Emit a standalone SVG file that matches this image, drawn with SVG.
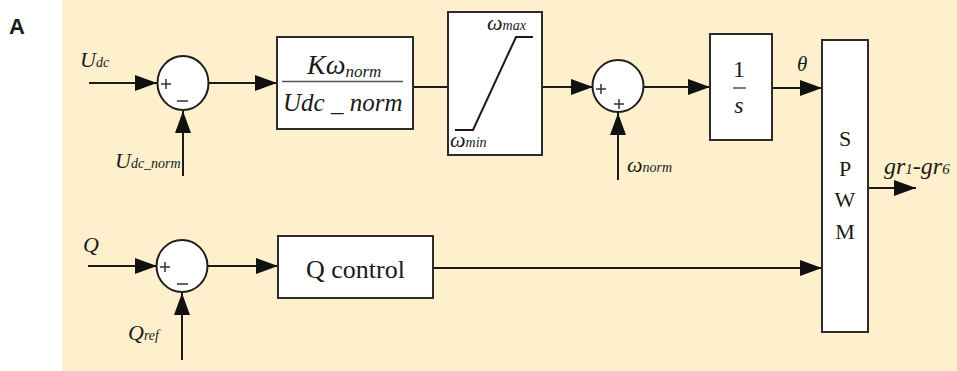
<svg xmlns="http://www.w3.org/2000/svg" width="957" height="371" viewBox="0 0 957 371">
<style>
.box{fill:#fff;stroke:#2b2b2b;stroke-width:2}
.sum{fill:#fff;stroke:#1e1e1e;stroke-width:2}
.ln{fill:none;stroke:#1a1a1a;stroke-width:2}
.ar{fill:none;stroke:#1a1a1a;stroke-width:2;marker-end:url(#ah)}
text{fill:#1a1a1a}
.i{font-style:italic}
.sign{stroke:#333;stroke-width:1.5;fill:none}
</style>
<defs>
<marker id="ah" markerUnits="userSpaceOnUse" markerWidth="22" markerHeight="16" viewBox="0 0 22 16" refX="22" refY="8" orient="auto">
<path d="M0,0 L22,8 L0,16 Z" fill="#111"/>
</marker>
</defs>
<rect x="0" y="0" width="957" height="371" fill="#fff"/>
<rect x="62" y="0" width="895" height="371" fill="#FEEFCD"/>
<text x="9" y="34" font-family="'Liberation Sans', Arial, sans-serif" font-weight="bold" font-size="22" fill="#000">A</text>

<g id="connectors">
<line class="ar" x1="89" y1="83" x2="157" y2="83"/>
<line class="ar" x1="183" y1="176" x2="183" y2="111"/>
<line class="ar" x1="208" y1="83" x2="277" y2="83"/>
<line class="ar" x1="414" y1="87" x2="593" y2="87"/>
<line class="ar" x1="618" y1="180" x2="618" y2="113"/>
<line class="ar" x1="643" y1="87" x2="710" y2="87"/>
<line class="ar" x1="772" y1="88" x2="822" y2="88"/>
<line class="ar" x1="868" y1="188" x2="916" y2="188"/>
<line class="ar" x1="88" y1="266" x2="157" y2="266"/>
<line class="ar" x1="182" y1="360" x2="182" y2="293"/>
<line class="ar" x1="207" y1="266" x2="278" y2="266"/>
<line class="ar" x1="433" y1="268" x2="822" y2="268"/>
</g>

<g font-family="'Liberation Serif', 'Times New Roman', serif">
<g id="labels">
<text class="i" x="80" y="67" font-size="22">U<tspan font-size="14">dc</tspan></text>
<text class="i" x="115" y="168" font-size="22">U<tspan font-size="14">dc_norm</tspan></text>
<text class="i" x="627" y="172" font-size="22">ω<tspan font-size="14">norm</tspan></text>
<text class="i" x="797" y="71" font-size="21">θ</text>
<text class="i" x="884" y="174" font-size="24">gr<tspan font-size="15">1</tspan>-gr<tspan font-size="15">6</tspan></text>
<text class="i" x="83" y="252" font-size="22">Q</text>
<text class="i" x="128" y="340" font-size="22">Q<tspan font-size="14">ref</tspan></text>
</g>

<g id="sum1">
<ellipse class="sum" cx="183" cy="83" rx="25.5" ry="27"/>
<path class="sign" d="M161,84 h10 M166,79 v10 M177,101 h11"/>
</g>

<g id="gain">
<rect class="box" x="277" y="37" width="136" height="92"/>
<text class="i" x="307" y="74" font-size="28">Kω<tspan font-size="17" dy="3">norm</tspan></text>
<line x1="282" y1="81.5" x2="403" y2="81.5" stroke="#555" stroke-width="1.5"/>
<text class="i" x="283" y="111" font-size="25">Udc _ norm</text>
</g>

<g id="limiter">
<rect class="box" x="448" y="12" width="94" height="143"/>
<path class="ln" d="M455,130 H473 L516,37 H533"/>
<text class="i" x="487" y="30" font-size="22">ω<tspan font-size="14">max</tspan></text>
<text class="i" x="450" y="147" font-size="22">ω<tspan font-size="14">min</tspan></text>
</g>

<g id="sum2">
<ellipse class="sum" cx="618" cy="86" rx="25.5" ry="26"/>
<path class="sign" d="M596,89 h10 M601,84 v10 M614,104 h10 M619,99 v10"/>
</g>

<g id="integrator">
<rect class="box" x="710" y="34" width="62" height="106"/>
<text x="739" y="77" font-size="24" text-anchor="middle">1</text>
<line x1="733" y1="88" x2="746" y2="88" stroke="#333" stroke-width="1.3"/>
<text class="i" x="739" y="113" font-size="24" text-anchor="middle">s</text>
</g>

<g id="spwm">
<rect class="box" x="822" y="40" width="46" height="292"/>
<text x="845" y="146" font-size="22" text-anchor="middle">S</text>
<text x="845" y="176" font-size="22" text-anchor="middle">P</text>
<text x="845" y="207" font-size="22" text-anchor="middle">W</text>
<text x="845" y="239" font-size="22" text-anchor="middle">M</text>
</g>

<g id="sum3">
<ellipse class="sum" cx="182" cy="266" rx="25.5" ry="26"/>
<path class="sign" d="M160,267 h10 M165,262 v10 M177,284 h11"/>
</g>

<g id="qcontrol">
<rect class="box" x="278" y="236" width="155" height="62"/>
<text x="355.5" y="278" font-size="26" text-anchor="middle">Q control</text>
</g>
</g>
</svg>
